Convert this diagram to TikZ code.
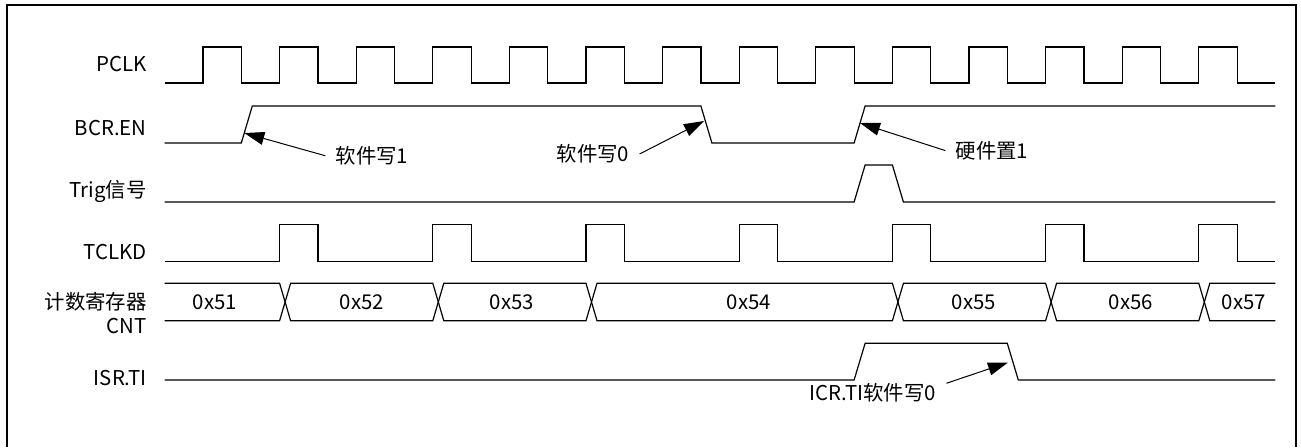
\documentclass[tikz,border=0pt]{standalone}
\usepackage{fontspec}
\setmainfont{Noto Sans CJK SC}
\usetikzlibrary{arrows.meta}

\begin{document}
\begin{tikzpicture}[
    x=0.5pt, y=-0.5pt,
    declare function={tk(\i)=164.7+38.3*\i;},
    font=\fontsize{10.2}{12}\selectfont,
    wave/.style={line width=0.6pt, line join=miter},
    signame/.style={anchor=base east, inner sep=0pt},
    note/.style={anchor=base, inner xsep=5pt, inner ysep=0pt},
    arrow/.style={-{Triangle[length=10pt, width=6.5pt]}, line width=0.5pt}
]
    \useasboundingbox (0,0) rectangle (1301,447);
    \draw[line width=0.6pt] (7,447) -- (7,5) -- (1296,5) -- (1296,447);

    \node[signame] (pclk) at (147,71) {PCLK};
    \node[signame] (bcren) at (147,135) {BCR.EN};
    \node[signame] (trig) at (147,197) {Trig信号};
    \node[signame] (tclkd) at (147,259) {TCLKD};
    \node[anchor=north east, inner sep=0pt, align=right] (cnt) at (147,292) {计数寄存器\\CNT};
    \node[signame] (isrti) at (147,385) {ISR.TI};

    % PCLK
    \draw[wave] ({tk(0)},83) \foreach \k in {1,3,...,27} {
        -- ({tk(\k)},83) -- ({tk(\k)},47) -- ({tk(\k+1)},47) -- ({tk(\k+1)},83) } -- ({tk(29)},83);

    % BCR.EN
    \draw[wave] ({tk(0)},143) -- ({tk(2)},143) -- ({tk(2)+11},106) -- ({tk(14)},106)
        -- ({tk(14)+11},143) -- ({tk(18)},143) -- ({tk(18)+11},106) -- ({tk(29)},106);

    % Trig
    \draw[wave] ({tk(0)},202) -- ({tk(18)},202) -- ({tk(18)+11},165) -- ({tk(19)},165)
        -- ({tk(19)+11},202) -- ({tk(29)},202);

    % TCLKD
    \draw[wave] ({tk(0)},261.7) \foreach \k in {3,7,...,27} {
        -- ({tk(\k)},261.7) -- ({tk(\k)},224.3) -- ({tk(\k+1)},224.3) -- ({tk(\k+1)},261.7) } -- ({tk(29)},261.7);

    % CNT
    \draw[wave] ({tk(0)},283.3) -- ({tk(3)},283.3) -- ({tk(3)+5.5},302) -- ({tk(3)},320.7) -- ({tk(0)},320.7);
    \foreach \a/\b in {3/7,7/11,11/19,19/23,23/27}
        \draw[wave] ({tk(\a)+5.5},302) -- ({tk(\a)+11},283.3) -- ({tk(\b)},283.3) -- ({tk(\b)+5.5},302)
            -- ({tk(\b)},320.7) -- ({tk(\a)+11},320.7) -- cycle;
    \draw[wave] ({tk(29)},283.3) -- ({tk(27)+11},283.3) -- ({tk(27)+5.5},302) -- ({tk(27)+11},320.7) -- ({tk(29)},320.7);
    \foreach \v/\x in {51/215,52/362,53/512,54/749,55/974,56/1131,57/1244}
        \node[anchor=base, inner sep=0pt] (cnt\v) at (\x,309.5) {0x\v};

    % ISR.TI
    \draw[wave] ({tk(0)},380) -- ({tk(18)},380) -- ({tk(18)+11},343.3) -- ({tk(22)},343.3)
        -- ({tk(22)+11},380) -- ({tk(29)},380);

    \coordinate (en1) at (244.3,133);
    \coordinate (en0) at (704,121);
    \coordinate (en2) at (860,123);
    \coordinate (ti0) at (1008,362.5);

    \node[note] (sw1) at (372,163.5) {软件写1};
    \node[note] (sw0) at (593,161.7) {软件写0};
    \node[note] (hw1) at (992,158.3) {硬件置1};
    \node[note] (icr) at (873,400) {ICR.TI软件写0};

    \draw[arrow] (sw1.west) -- (en1);
    \draw[arrow] (sw0.east) -- (en0);
    \draw[arrow] (hw1.west) -- (en2);
    \draw[arrow] ([yshift=4.5pt]icr.east) -- (ti0);
\end{tikzpicture}
\end{document}
